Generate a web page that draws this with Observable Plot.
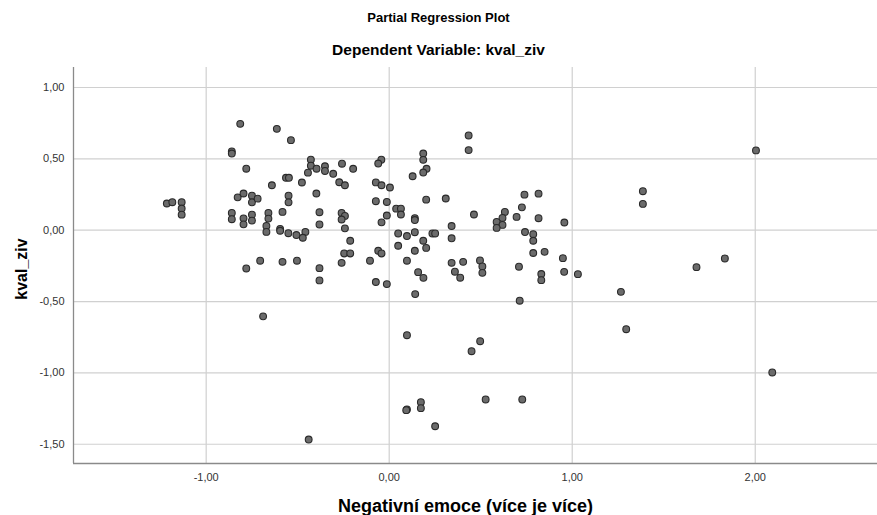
<!DOCTYPE html>
<html><head><meta charset="utf-8">
<script src="https://cdn.jsdelivr.net/npm/d3@7"></script>
<script src="https://cdn.jsdelivr.net/npm/@observablehq/plot@0.6"></script>
<style>
body{margin:0;background:#fff;font-family:Arial,"Liberation Sans",sans-serif;}
#wrap{position:relative;width:877px;height:515px;overflow:hidden;}
#wrap svg{position:absolute;left:0;top:0;}
.t{position:absolute;left:0;width:877px;text-align:center;font-weight:bold;color:#000;white-space:nowrap;line-height:1.15;}
#ylab{position:absolute;left:22px;top:269px;transform:translate(-50%,-50%) rotate(-90deg);font-weight:bold;font-size:16px;white-space:nowrap;line-height:1.15;}
</style></head><body>
<div id="wrap"></div>
<script>
const title = "Partial Regression Plot";
const subtitle = "Dependent Variable: kval_ziv";
const xLabel = "Negativní emoce (více je více)";
const yLabel = "kval_ziv";
const xTicks = [-1, 0, 1, 2];
const yTicks = [-1.5, -1, -0.5, 0, 0.5, 1];

const xValues = [
-1.215,-1.185,-1.134,-1.134,-1.134,-0.814,-0.614,-0.537,-0.860,-0.860,
-0.781,-0.428,-0.428,-0.397,-0.444,-0.641,-0.564,-0.548,-0.477,-0.398,
-0.828,-0.796,-0.750,-0.750,-0.719,-0.550,-0.550,-0.860,-0.860,-0.796,
-0.796,-0.750,-0.750,-0.660,-0.660,-0.671,-0.671,-0.583,-0.596,-0.596,
-0.551,-0.507,-0.381,-0.381,-0.458,-0.472,-0.781,-0.705,-0.583,-0.504,
-0.381,-0.381,-0.689,-0.440,-0.351,-0.351,-0.306,-0.258,-0.197,-0.043,
-0.060,0.186,0.186,0.204,0.186,0.128,0.434,0.434,-0.273,-0.242,
-0.073,-0.042,0.004,-0.073,-0.013,0.202,0.309,-0.260,-0.242,-0.260,
-0.013,-0.042,0.038,0.064,0.064,0.140,0.140,-0.242,-0.213,-0.246,
-0.213,-0.260,-0.105,-0.060,-0.042,-0.073,-0.013,0.049,0.097,0.140,
0.049,0.186,0.202,0.140,0.097,0.236,0.251,0.158,0.187,0.142,
0.097,0.097,0.093,0.173,0.173,0.251,0.341,0.341,0.341,0.404,
0.359,0.388,0.450,0.497,0.527,0.463,0.739,0.816,0.725,0.632,
0.619,0.587,0.619,0.587,0.696,0.816,0.957,0.742,0.787,0.787,
0.787,0.849,0.949,0.496,0.509,0.509,0.709,0.831,0.831,0.956,
1.031,0.713,0.727,1.266,1.295,1.386,1.386,1.679,1.834,2.004,
2.093
];
const yValues = [
0.187,0.196,0.196,0.152,0.109,0.745,0.710,0.631,0.552,0.537,
0.431,0.494,0.452,0.431,0.403,0.315,0.367,0.367,0.334,0.257,
0.230,0.257,0.242,0.195,0.221,0.242,0.195,0.121,0.077,0.083,
0.041,0.109,0.067,0.121,0.081,0.030,-0.012,0.128,0.009,-0.004,
-0.021,-0.034,0.126,0.040,-0.012,-0.053,-0.268,-0.214,-0.222,-0.214,
-0.266,-0.352,-0.604,-1.467,0.448,0.415,0.395,0.466,0.430,0.494,
0.467,0.537,0.493,0.430,0.404,0.378,0.664,0.561,0.336,0.315,
0.335,0.315,0.299,0.203,0.198,0.214,0.222,0.121,0.100,0.075,
0.103,0.055,0.151,0.151,0.110,0.084,0.071,0.013,-0.074,-0.163,
-0.163,-0.229,-0.214,-0.144,-0.163,-0.363,-0.378,-0.023,-0.041,-0.014,
-0.109,-0.074,-0.124,-0.144,-0.214,-0.023,-0.023,-0.294,-0.334,-0.448,
-0.736,-1.256,-1.261,-1.205,-1.247,-1.374,0.029,-0.057,-0.229,-0.222,
-0.291,-0.333,-0.848,-0.778,-1.186,0.110,0.249,0.256,0.160,0.128,
0.086,0.058,0.037,0.016,0.093,0.084,0.054,-0.013,-0.028,-0.074,
-0.160,-0.152,-0.196,-0.212,-0.254,-0.299,-0.256,-0.307,-0.350,-0.292,
-0.308,-0.494,-1.186,-0.432,-0.694,0.273,0.184,-0.259,-0.198,0.559,
-0.997
];

const data = xValues.map((x, i) => ({x, y: yValues[i]}));
const fmt = d => d.toFixed(2).replace(".", ",");
const xDomain = [-1.725, 2.668];
const yDomain = [-1.635, 1.14];

const chart = Plot.plot({
  width: 877,
  height: 515,
  marginLeft: 73,
  marginRight: 0,
  marginTop: 67,
  marginBottom: 52,
  style: {fontFamily: "Arial, 'Liberation Sans', sans-serif", fontSize: "11px", color: "#333", background: "#fff"},
  x: {domain: xDomain},
  y: {domain: yDomain},
  marks: [
    Plot.gridX(xTicks, {stroke: "#d0d0d0", strokeOpacity: 1, strokeWidth: 1.2}),
    Plot.gridY(yTicks, {stroke: "#d0d0d0", strokeOpacity: 1, strokeWidth: 1.2}),
    Plot.ruleX([xDomain[0]], {stroke: "#8a8a8a", strokeWidth: 1.3}),
    Plot.ruleY([yDomain[0]], {stroke: "#8a8a8a", strokeWidth: 1.3}),
    Plot.axisX(xTicks, {tickSize: 0, tickPadding: 10, tickFormat: fmt, label: null, fill: "#333"}),
    Plot.axisY(yTicks, {tickSize: 0, tickPadding: 9, tickFormat: fmt, label: null, fill: "#333"}),
    Plot.dot(data, {x: "x", y: "y", r: 3.4, fill: "#6b6b6b", stroke: "#2a2a2a", strokeWidth: 1.1})
  ]
});

const wrap = document.getElementById("wrap");
wrap.appendChild(chart);
function addDiv(cls, id, text, style) {
  const d = document.createElement("div");
  if (cls) d.className = cls;
  if (id) d.id = id;
  d.textContent = text;
  if (style) d.setAttribute("style", style);
  wrap.appendChild(d);
}
addDiv("t", "title", title, "top:11px;font-size:13px;");
addDiv("t", "sub", subtitle, "top:41px;font-size:15.5px;");
addDiv("t", "xlab", xLabel, "top:496px;font-size:18px;left:27px;");
addDiv(null, "ylab", yLabel, "");
</script>
</body></html>
